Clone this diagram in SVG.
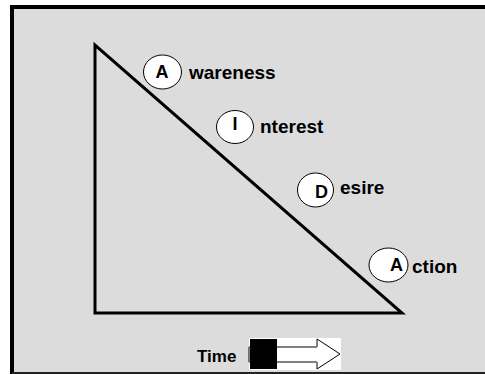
<svg xmlns="http://www.w3.org/2000/svg" width="485" height="374" viewBox="0 0 485 374">
<style>
.lbl{font-family:"Liberation Sans",Arial,sans-serif;font-weight:bold;font-size:19px;fill:#000}
.ltr{font-family:"Liberation Sans",Arial,sans-serif;font-weight:bold;font-size:18px;fill:#000}
.bub{fill:#fff;stroke:#000;stroke-width:1}
</style>
<rect x="0" y="0" width="485" height="374" fill="#fff"/>
<rect x="12" y="7" width="473" height="366" fill="#dcdcdc"/>
<line x1="10" y1="7" x2="485" y2="7" stroke="#000" stroke-width="4"/>
<line x1="12" y1="5" x2="12" y2="374" stroke="#000" stroke-width="4"/>
<line x1="12" y1="373" x2="485" y2="373" stroke="#222" stroke-width="2"/>
<g id="connectors">
<polygon points="95,45 95,313 402,313" fill="none" stroke="#000" stroke-width="3" stroke-linejoin="miter"/>
</g>
<g id="awareness">
<ellipse class="bub" cx="162.5" cy="72" rx="19" ry="17"/>
<text class="ltr" x="155.5" y="77.5">A</text>
<text class="lbl" x="189" y="79">wareness</text>
</g>
<g id="interest">
<ellipse class="bub" cx="235" cy="127" rx="18.5" ry="16.5"/>
<text class="ltr" x="232.5" y="130">I</text>
<text class="lbl" x="260" y="133">nterest</text>
</g>
<g id="desire">
<ellipse class="bub" cx="315.5" cy="190" rx="18" ry="17"/>
<text class="ltr" x="315" y="198">D</text>
<text class="lbl" x="340" y="194">esire</text>
</g>
<g id="action">
<ellipse class="bub" cx="388.5" cy="265" rx="19.5" ry="17"/>
<text class="ltr" x="390" y="271">A</text>
<text class="lbl" x="412" y="273">ction</text>
</g>
<g id="time">
<text class="lbl" x="197" y="362" style="font-size:17px">Time</text>
<rect x="249" y="338" width="92" height="32" fill="#fff"/>
<polygon points="249,347 317,347 317,339 340,354 317,369 317,362 249,362" fill="#fff" stroke="#000" stroke-width="1"/>
<line x1="249" y1="347" x2="317" y2="347" stroke="#808080" stroke-width="2"/>
<line x1="249" y1="362" x2="317" y2="362" stroke="#808080" stroke-width="2"/>
<rect x="250" y="339" width="27" height="30" fill="#000"/>
</g>
</svg>
